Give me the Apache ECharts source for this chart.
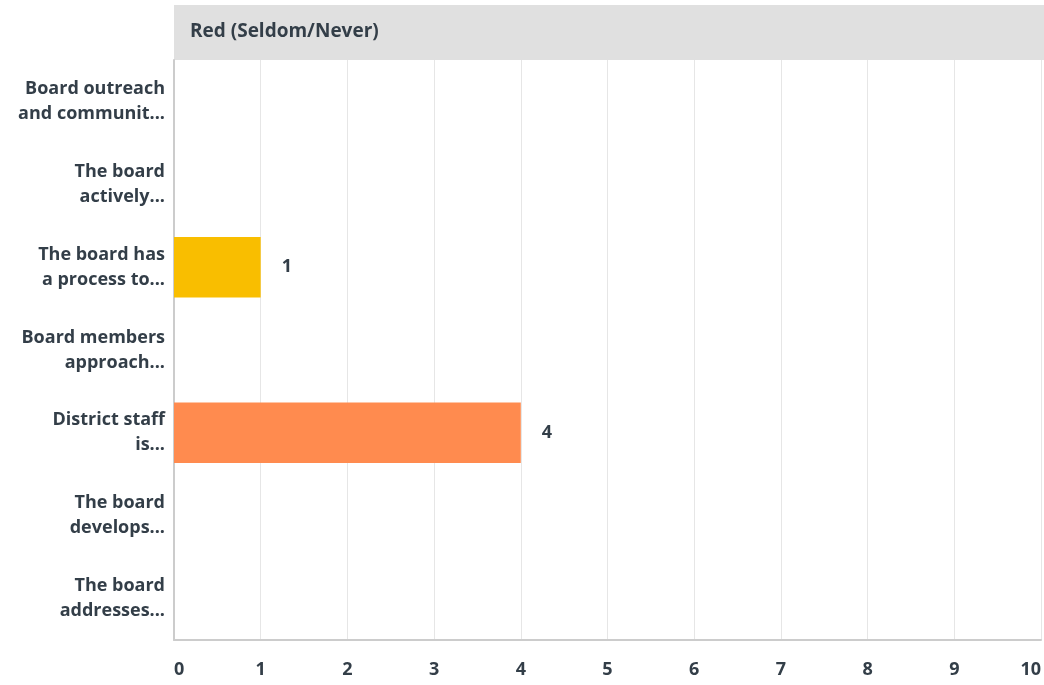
<!DOCTYPE html>
<html>
<head>
<meta charset="utf-8">
<style>
  html, body { margin: 0; padding: 0; background: #ffffff; }
  #chart { width: 1044px; height: 685px; }
</style>
<script src="https://cdn.jsdelivr.net/npm/echarts@6/dist/echarts.min.js"></script>
</head>
<body>
<div id="chart"></div>
<script>
// Survey statements (truncated as displayed) and response counts
const categories = [
  'Board outreach\nand communit...',
  'The board\nactively...',
  'The board has\na process to...',
  'Board members\napproach...',
  'District staff\nis...',
  'The board\ndevelops...',
  'The board\naddresses...'
];
const counts = [0, 0, 1, 0, 4, 0, 0];
const barColors = ['#f9be00', '#f9be00', '#f9be00', '#f9be00', '#ff8b4f', '#f9be00', '#f9be00'];
const xTicks = { min: 0, max: 10, interval: 1 };
const headerTitle = 'Red (Seldom/Never)';

const textColor = '#333e48';
const fontFamily = '"Open Sans", "Noto Sans", sans-serif';

const chart = echarts.init(document.getElementById('chart'), null, { renderer: 'canvas' });

chart.setOption({
  animation: false,
  backgroundColor: '#ffffff',
  textStyle: { fontFamily: fontFamily },
  graphic: [
    {
      type: 'rect',
      left: 174, top: 5,
      shape: { width: 870, height: 55 },
      style: { fill: '#e0e0e0' },
      silent: true
    },
    {
      type: 'text',
      left: 190, top: 22,
      style: {
        text: headerTitle,
        fill: textColor,
        font: 'bold 19px ' + fontFamily
      },
      silent: true
    }
  ],
  grid: { left: 174, right: 3, top: 60, bottom: 45, containLabel: false },
  xAxis: {
    type: 'value',
    min: xTicks.min, max: xTicks.max, interval: xTicks.interval,
    axisLine: { show: true, lineStyle: { color: '#cccccc', width: 2 } },
    axisTick: { show: false },
    splitLine: { show: true, lineStyle: { color: '#e6e6e6', width: 1 } },
    axisLabel: {
      color: textColor, fontSize: 18, fontWeight: 'bold', margin: 21,
      alignMinLabel: 'left', alignMaxLabel: 'right'
    }
  },
  yAxis: {
    type: 'category',
    inverse: true,
    data: categories,
    axisLine: { show: true, lineStyle: { color: '#cccccc', width: 2 } },
    axisTick: { show: false },
    splitLine: { show: false },
    axisLabel: {
      color: textColor, fontSize: 18, fontWeight: 'bold', lineHeight: 25,
      align: 'right', margin: 9
    }
  },
  series: [{
    type: 'bar',
    data: counts.map((v, i) => ({ value: v, itemStyle: { color: barColors[i] } })),
    barCategoryGap: '27%',
    label: {
      show: true,
      position: 'right',
      distance: 21,
      color: textColor,
      fontSize: 18,
      fontWeight: 'bold',
      formatter: p => (p.value > 0 ? String(p.value) : '')
    }
  }]
});
</script>
</body>
</html>
